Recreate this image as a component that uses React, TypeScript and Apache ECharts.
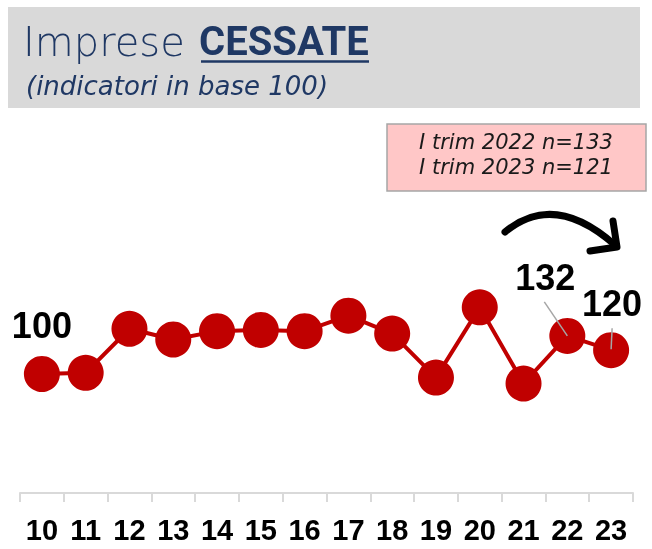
import React, { useEffect, useRef } from 'react';
import * as echarts from 'echarts';

const categories = ['10', '11', '12', '13', '14', '15', '16', '17', '18', '19', '20', '21', '22', '23'];
const values = [100, 101, 138, 129, 136, 137, 136, 149, 134, 97, 156, 92, 132, 120];
const titleMain = 'Imprese ';
const titleBold = 'CESSATE';
const subtitle = '(indicatori in base 100)';
const boxLines = ['I trim 2022 n=133', 'I trim 2023 n=121'];

const RED = '#c00000';
const NAVY = '#1f3864';
const labelFont = "'Liberation Sans', Arial, sans-serif";

export default function App() {
  const ref = useRef<HTMLDivElement>(null);
  useEffect(() => {
    if (!ref.current) return;
    const chart = echarts.init(ref.current, undefined, { renderer: 'svg' });
    const labelCfg: Record<number, any> = {
      0: { show: true, position: 'top', distance: 13 },
      12: { show: true, position: 'top', distance: 22, offset: [-22, 0] },
      13: { show: true, position: 'top', distance: 11, offset: [1, 0] },
    };
    const data = values.map((v, i) =>
      labelCfg[i] ? { value: v, label: labelCfg[i] } : { value: v }
    );
    chart.setOption({
      animation: false,
      grid: { left: 20, right: 19, top: 136, bottom: 56 },
      xAxis: {
        type: 'category',
        data: categories,
        boundaryGap: true,
        axisLine: { lineStyle: { color: '#d9d9d9', width: 2 } },
        axisTick: { show: true, length: 9, lineStyle: { color: '#d9d9d9', width: 2 } },
        axisLabel: {
          fontSize: 29,
          fontWeight: 'bold',
          color: '#000',
          margin: 22,
          fontFamily: "'Liberation Sans Narrow', 'Liberation Sans', Arial, sans-serif",
        },
      },
      yAxis: { type: 'value', min: 0, max: 300, show: false },
      series: [
        {
          type: 'line',
          data,
          symbol: 'circle',
          symbolSize: 36,
          lineStyle: { color: RED, width: 4 },
          itemStyle: { color: RED },
          label: {
            show: false,
            fontSize: 36,
            fontWeight: 'bold',
            color: '#000',
            fontFamily: labelFont,
            formatter: '{c}',
          },
        },
      ],
      graphic: [
        { type: 'rect', shape: { x: 8, y: 7, width: 632, height: 101 }, style: { fill: '#d9d9d9' }, z: 0 },
        {
          type: 'text', x: 23, y: 41.5,
          style: { text: titleMain, fontSize: 40, fontFamily: "'DejaVu Sans', sans-serif", fontWeight: 200, fill: NAVY, verticalAlign: 'middle' },
        },
        {
          type: 'text', x: 199, y: 41.5,
          style: { text: titleBold, fontSize: 40, fontFamily: 'Roboto, sans-serif', fontWeight: 'bold', fill: NAVY, verticalAlign: 'middle' },
        },
        { type: 'line', shape: { x1: 201, y1: 61.5, x2: 369, y2: 61.5 }, style: { stroke: NAVY, lineWidth: 2.5 } },
        {
          type: 'text', x: 26, y: 86,
          style: { text: subtitle, fontSize: 26, fontFamily: "'DejaVu Sans', sans-serif", fontStyle: 'italic', fill: NAVY, verticalAlign: 'middle' },
        },
        { type: 'rect', shape: { x: 387, y: 124, width: 259, height: 67 }, style: { fill: '#ffc7c7', stroke: '#a6a6a6', lineWidth: 1.5 } },
        {
          type: 'text', x: 516, y: 141.5,
          style: { text: boxLines[0], fontSize: 21, fontFamily: "'DejaVu Sans', sans-serif", fontStyle: 'italic', fill: '#1a1a1a', align: 'center', verticalAlign: 'middle' },
        },
        {
          type: 'text', x: 516, y: 166.5,
          style: { text: boxLines[1], fontSize: 21, fontFamily: "'DejaVu Sans', sans-serif", fontStyle: 'italic', fill: '#1a1a1a', align: 'center', verticalAlign: 'middle' },
        },
        {
          type: 'bezierCurve',
          shape: { x1: 505, y1: 232, cpx1: 554, cpy1: 191, x2: 615, y2: 245 },
          style: { stroke: '#000', lineWidth: 7, fill: 'none', lineCap: 'round' },
        },
        {
          type: 'polyline',
          shape: { points: [[613, 221], [617, 247], [590, 251]] },
          style: { stroke: '#000', lineWidth: 7, fill: 'none', lineCap: 'round', lineJoin: 'round' },
        },
      ],
    });
    // leader lines from data-derived pixels
    const p22 = chart.convertToPixel({ seriesIndex: 0 }, [12, values[12]]) as number[];
    const p23 = chart.convertToPixel({ seriesIndex: 0 }, [13, values[13]]) as number[];
    chart.setOption({
      graphic: [
        {
          id: 'lead22', type: 'line', z: 100,
          shape: { x1: p22[0] - 23, y1: p22[1] - 34, x2: p22[0], y2: p22[1] },
          style: { stroke: '#a6a6a6', lineWidth: 1.5 },
        },
        {
          id: 'lead23', type: 'line', z: 100,
          shape: { x1: p23[0] + 1, y1: p23[1] - 22, x2: p23[0], y2: p23[1] - 1 },
          style: { stroke: '#a6a6a6', lineWidth: 1.5 },
        },
      ],
    });
    return () => chart.dispose();
  }, []);
  return <div ref={ref} style={{ position: 'fixed', left: 0, top: 0, width: 652, height: 549 }} />;
}
